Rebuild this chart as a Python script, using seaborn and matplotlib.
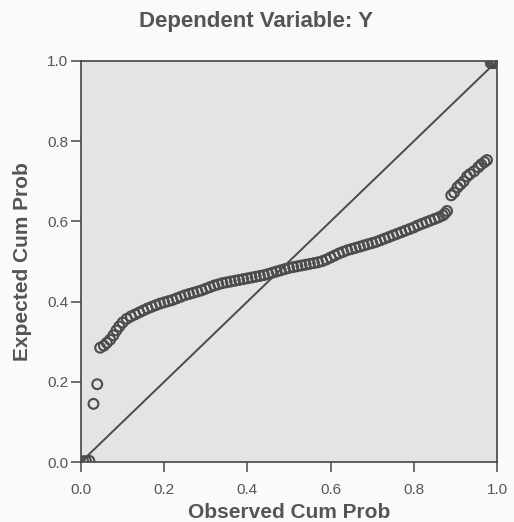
import matplotlib
matplotlib.use("Agg")
import matplotlib.pyplot as plt
import seaborn as sns
import pandas as pd

# P-P plot of standardized residuals
observed = [
    0.005, 0.012, 0.020, 0.030, 0.039,
    0.046, 0.055, 0.062, 0.070, 0.078, 0.085, 0.092, 0.100, 0.110, 0.120,
    0.130, 0.140, 0.150, 0.160, 0.170, 0.180, 0.190, 0.200, 0.210, 0.220,
    0.230, 0.240, 0.250, 0.260, 0.270, 0.280, 0.290, 0.300, 0.310, 0.320,
    0.330, 0.340, 0.350, 0.360, 0.370, 0.380, 0.390, 0.400, 0.410, 0.420,
    0.430, 0.440, 0.450, 0.460, 0.470, 0.480, 0.490, 0.500, 0.510, 0.520,
    0.530, 0.540, 0.550, 0.560, 0.570, 0.580, 0.590, 0.600, 0.610, 0.620,
    0.630, 0.640, 0.650, 0.660, 0.670, 0.680, 0.690, 0.700, 0.710, 0.720,
    0.730, 0.740, 0.750, 0.760, 0.770, 0.780, 0.790, 0.800, 0.810, 0.820,
    0.830, 0.840, 0.850, 0.860, 0.870, 0.875, 0.880,
    0.890, 0.897, 0.905, 0.912, 0.920, 0.928, 0.935, 0.945, 0.955, 0.962,
    0.970, 0.976,
    0.985, 0.990, 0.995, 1.000,
]
expected = [
    0.002, 0.002, 0.003, 0.145, 0.194,
    0.285, 0.290, 0.297, 0.305, 0.316, 0.328, 0.338, 0.348, 0.357, 0.363,
    0.368, 0.373, 0.378, 0.383, 0.387, 0.391, 0.395, 0.398, 0.401, 0.404,
    0.408, 0.412, 0.416, 0.419, 0.422, 0.425, 0.428, 0.432, 0.436, 0.440,
    0.443, 0.446, 0.448, 0.450, 0.452, 0.454, 0.456, 0.458, 0.460, 0.462,
    0.464, 0.466, 0.469, 0.472, 0.475, 0.478, 0.481, 0.484, 0.486, 0.488,
    0.490, 0.492, 0.494, 0.496, 0.498, 0.501, 0.505, 0.510, 0.515, 0.520,
    0.524, 0.528, 0.531, 0.534, 0.537, 0.540, 0.543, 0.546, 0.549, 0.553,
    0.557, 0.561, 0.565, 0.569, 0.573, 0.577, 0.581, 0.585, 0.590, 0.594,
    0.598, 0.602, 0.606, 0.610, 0.615, 0.620, 0.626,
    0.665, 0.672, 0.685, 0.692, 0.700, 0.712, 0.718, 0.725, 0.735, 0.742,
    0.748, 0.753,
    0.995, 0.995, 0.995, 0.995,
]
diag = [0.0, 1.0]
tick_vals = [0.0, 0.2, 0.4, 0.6, 0.8, 1.0]

ink = "#555555"

sns.set_style("white")
plt.rcParams["font.family"] = ["Liberation Sans", "DejaVu Sans"]

df = pd.DataFrame({"observed": observed, "expected": expected})

fig = plt.figure(figsize=(5.14, 5.22), dpi=100, facecolor="#fafafa")
ax = fig.add_axes([81 / 514, 1 - 462 / 522, 416 / 514, 401 / 522])
ax.set_facecolor("#e4e4e4")

ax.plot(diag, diag, color="#4a4a4a", linewidth=1.4, zorder=2)
sns.scatterplot(data=df, x="observed", y="expected", ax=ax, marker="o",
                s=50, facecolor="none", edgecolor="#4c4c4c", linewidth=1.5,
                zorder=3, legend=False)

ax.set_xlim(0, 1)
ax.set_ylim(0, 1)
ax.set_xticks(tick_vals)
ax.set_yticks(tick_vals)
ax.set_xticklabels([f"{v:.1f}" for v in tick_vals])
ax.set_yticklabels([f"{v:.1f}" for v in tick_vals])
ax.tick_params(axis="both", direction="out", length=7, width=1.2,
               color=ink, labelcolor=ink, labelsize=11)
ax.tick_params(axis="x", pad=8)
ax.tick_params(axis="y", pad=2)
ax.tick_params(left=True, bottom=True, top=False, right=False)
for side in ["left", "bottom", "top", "right"]:
    ax.spines[side].set_color("#444444")
    ax.spines[side].set_linewidth(1.2)

ax.set_xlabel("Observed Cum Prob", fontsize=15, fontweight="bold", color=ink)
ax.set_ylabel("Expected Cum Prob", fontsize=15, fontweight="bold", color=ink)
ax.xaxis.set_label_coords(0.5, -0.103)
ax.yaxis.set_label_coords(-0.117, 0.5)
fig.text(256 / 514, 1 - 22 / 522, "Dependent Variable: Y", ha="center",
         va="center", fontsize=16, fontweight="bold", color=ink)

fig.savefig("out.png", dpi=100, facecolor=fig.get_facecolor())
